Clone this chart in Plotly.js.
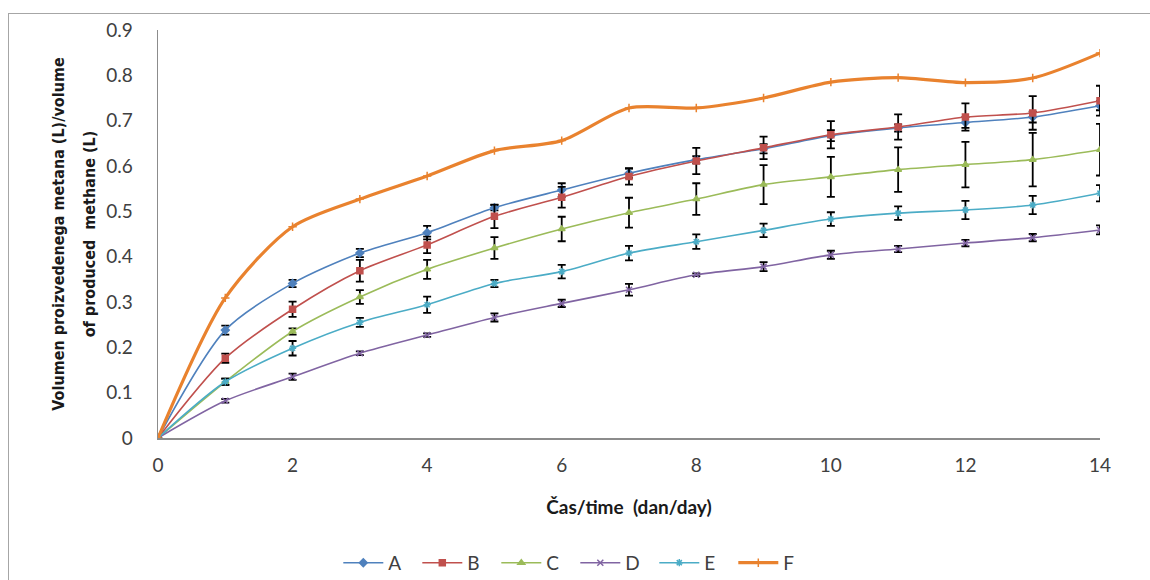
<!DOCTYPE html>
<html>
<head>
<meta charset="utf-8">
<script src="https://cdn.plot.ly/plotly-3.0.1.min.js"></script>
<style>
  html, body { margin: 0; padding: 0; background: #fff; }
  #wrap { position: relative; width: 1150px; height: 580px; overflow: hidden; }
  #frame { position: absolute; left: 8px; top: 13px; width: 1200px; height: 600px;
           border-left: 1px solid #a6a6a6; border-top: 1px solid #a6a6a6; pointer-events: none; }
  #chart { position: absolute; left: 0; top: 0; width: 1150px; height: 580px; }
</style>
</head>
<body>
<div id="wrap">
  <div id="chart"></div>
  <div id="frame"></div>
</div>
<script>
// Days
const days = [0, 1, 2, 3, 4, 5, 6, 7, 8, 9, 10, 11, 12, 13, 14];
const xTicks = [0, 2, 4, 6, 8, 10, 12, 14];
const yTicks = [0, 0.1, 0.2, 0.3, 0.4, 0.5, 0.6, 0.7, 0.8, 0.9];

// Series values (L)
const seriesA = [0, 0.238, 0.341, 0.408, 0.453, 0.508, 0.547, 0.584, 0.614, 0.638, 0.667, 0.684, 0.696, 0.708, 0.733];
const seriesB = [0, 0.176, 0.284, 0.369, 0.426, 0.489, 0.531, 0.577, 0.611, 0.640, 0.669, 0.686, 0.708, 0.717, 0.744];
const seriesC = [0, 0.124, 0.235, 0.311, 0.372, 0.419, 0.461, 0.497, 0.527, 0.559, 0.576, 0.592, 0.603, 0.614, 0.636];
const seriesD = [0, 0.082, 0.135, 0.187, 0.227, 0.266, 0.297, 0.327, 0.360, 0.378, 0.404, 0.417, 0.430, 0.442, 0.459];
const seriesE = [0, 0.124, 0.198, 0.255, 0.294, 0.341, 0.367, 0.408, 0.433, 0.458, 0.483, 0.496, 0.503, 0.514, 0.540];
const seriesF = [0, 0.309, 0.466, 0.527, 0.578, 0.634, 0.656, 0.728, 0.728, 0.750, 0.785, 0.795, 0.784, 0.794, 0.849];

// Error bar half-widths (L)
const errA = [0, 0.010, 0.008, 0.009, 0.015, 0.006, 0.015, 0.010, 0.008, 0.010, 0.012, 0.008, 0.012, 0.012, 0.010];
const errB = [0, 0.010, 0.017, 0.024, 0.018, 0.026, 0.023, 0.018, 0.029, 0.025, 0.030, 0.028, 0.030, 0.037, 0.033];
const errC = [0, 0.007, 0.007, 0.015, 0.021, 0.024, 0.027, 0.033, 0.035, 0.043, 0.044, 0.049, 0.050, 0.059, 0.057];
const errD = [0, 0.004, 0.007, 0.004, 0.004, 0.009, 0.008, 0.013, 0.003, 0.010, 0.009, 0.007, 0.007, 0.008, 0.010];
const errE = [0, 0.007, 0.016, 0.010, 0.018, 0.008, 0.015, 0.016, 0.016, 0.015, 0.015, 0.015, 0.020, 0.020, 0.018];

const names = ['A', 'B', 'C', 'D', 'E', 'F'];
const colors = ['#4F81BD', '#C0504D', '#9BBB59', '#8064A2', '#4BACC6', '#E9822E'];
const symbols = ['diamond', 'square', 'triangle-up', 'x-thin-open', 'asterisk-open', 'cross-thin-open'];
const values = [seriesA, seriesB, seriesC, seriesD, seriesE, seriesF];
const errors = [errA, errB, errC, errD, errE, null];

const traces = values.map((v, i) => {
  const t = {
    type: 'scatter',
    mode: 'lines+markers',
    name: names[i],
    x: days,
    y: v,
    line: { color: colors[i], width: i === 5 ? 3.2 : 1.6, shape: 'spline', smoothing: 0.8 },
    marker: { color: colors[i], symbol: symbols[i], size: 6,
              line: { color: colors[i], width: 1.5 } },
    cliponaxis: true
  };
  if (errors[i]) {
    t.error_y = { type: 'data', array: errors[i], visible: true, color: '#000000', thickness: 1.8, width: 4 };
  }
  return t;
});

const tickFont = { family: 'Lato, "Open Sans", sans-serif', size: 19, color: '#404040' };
const yTitleLines = ['Volumen proizvedenega metana (L)/volume', 'of produced  methane (L)'];

const layout = {
  width: 1150,
  height: 580,
  margin: { l: 158, r: 50, t: 30, b: 142, autoexpand: false },
  paper_bgcolor: 'rgba(0,0,0,0)',
  plot_bgcolor: 'rgba(0,0,0,0)',
  showlegend: true,
  legend: {
    orientation: 'h',
    x: 0.443, xanchor: 'center',
    y: -0.306, yanchor: 'middle',
    font: { family: 'Lato, "Open Sans", sans-serif', size: 19, color: '#404040' },
    entrywidth: 24,
    itemwidth: 40,
    traceorder: 'normal'
  },
  xaxis: {
    range: [0, 14],
    tickvals: xTicks,
    ticktext: xTicks.map(String),
    showgrid: false,
    zeroline: false,
    showline: true,
    linecolor: '#8c8c8c',
    linewidth: 1.5,
    ticks: 'outside',
    ticklen: 10,
    tickcolor: 'rgba(0,0,0,0)',
    tickfont: tickFont,
    title: { text: 'Čas/time  (dan/day)', font: { family: 'Lato, "Open Sans", sans-serif', size: 19, color: '#1a1a1a', weight: 'bold' }, standoff: 25 }
  },
  yaxis: {
    range: [0, 0.9],
    tickvals: yTicks,
    ticktext: yTicks.map(v => v === 0 ? '0' : v.toFixed(1)),
    showgrid: false,
    zeroline: false,
    showline: true,
    linecolor: '#8c8c8c',
    linewidth: 1.5,
    ticks: 'outside',
    ticklen: 20,
    tickcolor: 'rgba(0,0,0,0)',
    tickfont: tickFont,
    title: { text: yTitleLines.map(s => '<span style="font-size:16px">' + s + '</span>').join('<br><br>'),
             font: { family: '"Liberation Sans Narrow", "DejaVu Sans Condensed", sans-serif', size: 12, color: '#1a1a1a', weight: 'bold' },
             standoff: 8 }
  }
};

Plotly.newPlot('chart', traces, layout, { displayModeBar: false, staticPlot: true });
</script>
</body>
</html>
